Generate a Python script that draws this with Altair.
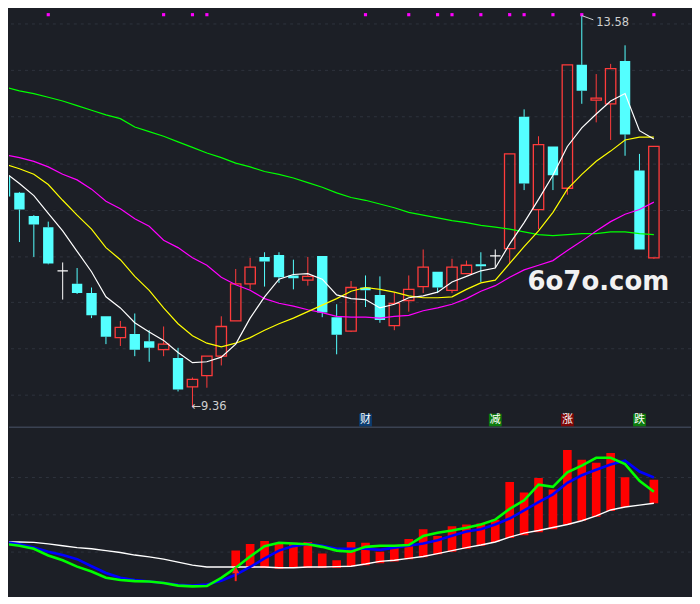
import altair as alt
import pandas as pd
import numpy as np

# ---------------- data ----------------
idx = list(range(-1, 45))
opens = [11.85, 11.67, 11.42, 11.30, 10.83, 10.69, 10.59, 10.34, 10.11, 10.15,
         10.07, 9.98, 9.89, 9.58, 9.70, 9.91, 10.29, 10.69, 10.98, 11.00,
         10.78, 10.73, 10.99, 10.33, 10.18, 10.65, 10.57, 10.24, 10.51, 10.66,
         10.82, 10.62, 10.80, 10.90, 10.99, 11.07, 12.49, 11.49, 12.17, 11.72,
         13.05, 12.67, 12.63, 13.09, 11.91, 10.97]
highs = [11.85, 11.68, 11.43, 11.36, 10.92, 10.86, 10.65, 10.34, 10.29, 10.37,
         10.19, 10.23, 10.00, 9.68, 9.91, 10.34, 10.85, 10.97, 11.03, 11.03,
         10.95, 10.98, 10.99, 10.47, 10.72, 10.78, 10.77, 10.60, 10.78, 11.06,
         10.82, 10.96, 10.94, 11.03, 11.06, 12.09, 12.57, 12.28, 12.17, 13.05,
         13.58, 12.95, 13.06, 13.26, 12.09, 12.17]
lows = [11.63, 11.14, 10.98, 10.90, 10.52, 10.58, 10.32, 10.04, 10.02, 9.91,
        9.85, 9.91, 9.53, 9.36, 9.57, 9.81, 10.29, 10.63, 10.66, 10.70,
        10.63, 10.67, 10.33, 9.93, 10.17, 10.44, 10.27, 10.19, 10.39, 10.59,
        10.59, 10.59, 10.80, 10.71, 10.86, 10.91, 11.70, 11.28, 11.70, 11.65,
        12.63, 12.43, 12.24, 12.07, 11.06, 10.96]
closes = [11.63, 11.49, 11.33, 10.91, 10.83, 10.59, 10.35, 10.12, 10.22, 9.98,
          10.00, 10.04, 9.55, 9.66, 9.91, 10.23, 10.69, 10.87, 10.93, 10.76,
          10.75, 10.77, 10.38, 10.14, 10.65, 10.62, 10.30, 10.48, 10.63, 10.87,
          10.65, 10.87, 10.89, 10.88, 10.99, 12.09, 11.77, 12.19, 11.86, 13.05,
          12.77, 12.69, 13.01, 12.30, 11.06, 12.17]

ma5 = [11.89, 11.77, 11.64, 11.45, 11.26, 11.04, 10.82, 10.55, 10.43, 10.27,
       10.17, 10.08, 9.95, 9.84, 9.85, 9.90, 10.04, 10.32, 10.55, 10.74,
       10.79, 10.80, 10.74, 10.57, 10.53, 10.52, 10.43, 10.47, 10.54, 10.56,
       10.60, 10.71, 10.77, 10.83, 10.86, 11.12, 11.35, 11.60, 11.86, 12.17,
       12.37, 12.52, 12.66, 12.74, 12.34, 12.25]
ma10 = [11.98, 11.93, 11.87, 11.76, 11.59, 11.43, 11.28, 11.08, 10.95, 10.77,
        10.62, 10.43, 10.26, 10.13, 10.05, 10.01, 10.05, 10.11, 10.19, 10.26,
        10.32, 10.39, 10.46, 10.53, 10.61, 10.65, 10.63, 10.60, 10.56, 10.54,
        10.54, 10.55, 10.63, 10.70, 10.73, 10.91, 11.09, 11.26, 11.46, 11.71,
        11.87, 12.01, 12.12, 12.24, 12.27, 12.27]
ma20 = [12.08, 12.05, 12.01, 11.95, 11.87, 11.81, 11.71, 11.58, 11.50, 11.39,
        11.31, 11.16, 11.08, 10.97, 10.89, 10.76, 10.68, 10.62, 10.53, 10.48,
        10.45, 10.41, 10.38, 10.34, 10.33, 10.33, 10.32, 10.34, 10.35, 10.40,
        10.43, 10.47, 10.53, 10.61, 10.67, 10.76, 10.84, 10.89, 10.94, 11.05,
        11.15, 11.26, 11.36, 11.44, 11.49, 11.57]
ma60 = [12.81, 12.77, 12.74, 12.70, 12.66, 12.61, 12.56, 12.51, 12.47, 12.38,
        12.33, 12.28, 12.22, 12.16, 12.10, 12.05, 11.99, 11.95, 11.90, 11.87,
        11.83, 11.78, 11.73, 11.67, 11.62, 11.59, 11.55, 11.51, 11.46, 11.43,
        11.40, 11.37, 11.35, 11.32, 11.30, 11.28, 11.25, 11.22, 11.21, 11.22,
        11.23, 11.23, 11.25, 11.25, 11.23, 11.22]

# lower indicator panel
ind_white = [1.27, 1.27, 1.26, 1.22, 1.17, 1.12, 1.09, 1.04, 0.99, 0.92,
             0.87, 0.81, 0.73, 0.65, 0.60, 0.60, 0.60, 0.60, 0.60, 0.58,
             0.58, 0.60, 0.60, 0.61, 0.62, 0.68, 0.75, 0.78, 0.83, 0.88,
             0.96, 1.04, 1.12, 1.19, 1.27, 1.40, 1.51, 1.58, 1.66, 1.74,
             1.84, 1.97, 2.13, 2.21, 2.26, 2.31]
ind_blue = [1.27, 1.21, 1.12, 1.01, 0.92, 0.81, 0.62, 0.44, 0.31, 0.25,
            0.21, 0.17, 0.12, 0.10, 0.13, 0.23, 0.39, 0.60, 0.83, 1.04,
            1.16, 1.22, 1.17, 1.09, 1.09, 1.09, 1.06, 1.12, 1.17, 1.23,
            1.32, 1.44, 1.55, 1.61, 1.74, 1.90, 2.12, 2.34, 2.55, 2.86,
            3.06, 3.21, 3.35, 3.45, 3.16, 3.00]
ind_green = [1.22, 1.17, 1.09, 0.91, 0.78, 0.61, 0.48, 0.31, 0.25, 0.22,
             0.21, 0.17, 0.10, 0.08, 0.09, 0.31, 0.58, 0.88, 1.16, 1.25,
             1.23, 1.21, 1.14, 1.04, 1.01, 1.14, 1.17, 1.17, 1.19, 1.43,
             1.52, 1.58, 1.65, 1.74, 1.87, 2.16, 2.39, 2.81, 2.75, 3.14,
             3.32, 3.53, 3.53, 3.36, 2.91, 2.62]
bar_idx = [15, 16, 17, 18, 19, 20, 21, 22, 23, 24, 25, 26, 27, 28, 29,
           30, 31, 32, 33, 34, 35, 36, 37, 38, 39, 40, 41, 42, 44]
bar_top = [1.04, 1.22, 1.30, 1.22, 1.25, 1.27, 0.96, 0.78, 1.27, 1.25, 1.01, 1.19, 1.35, 1.61, 1.43,
           1.69, 1.74, 1.77, 1.87, 2.88, 2.60, 2.99, 2.68, 3.74, 3.48, 3.40, 3.66, 3.01, 2.94]
bar_bottom = [0.57, 0.57, 0.57, 0.55, 0.57, 0.57, 0.57, 0.57, 0.62, 0.65, 0.70, 0.75, 0.81, 0.86, 0.94,
              1.01, 1.09, 1.17, 1.27, 1.38, 1.45, 1.53, 1.61, 1.74, 1.84, 1.95, 2.10, 2.21, 2.31]
buy_arrow_idx = [15]

signal_dots = [2, 10, 12, 13, 24, 27, 29, 30, 32, 34, 35, 37, 39, 44]
marker_idx = [24, 33, 38, 43]
marker_text = ["财", "减", "涨", "跌"]
marker_bg = ["#0b3c70", "#0c7a0c", "#7d0606", "#0c7a0c"]

price_grid = [13.49, 12.99, 12.49, 11.98, 11.48, 10.98, 10.49, 9.99, 9.49]
ind_grid = [1, 2, 3]

# ---------------- styling ----------------
BG = "#1c1f26"
GRID = "#2e333d"
RED = "#ff3b3b"
CYAN = "#54ffff"
W, H_TOP, H_BOT = 684, 420, 168

XS = alt.Scale(domain=[-0.723, 46.574], nice=False, zero=False)
YS = alt.Scale(domain=[9.14, 13.653], nice=False, zero=False)
YB = alt.Scale(domain=[-0.182, 4.312], nice=False, zero=False)

df = pd.DataFrame(dict(i=idx, o=opens, h=highs, l=lows, c=closes))
df["top"] = df[["o", "c"]].max(axis=1)
df["bot"] = df[["o", "c"]].min(axis=1)
df["kind"] = np.where(df.c > df.o, "up", np.where(df.c < df.o, "down", "flat"))
df["col"] = df["kind"].map({"up": RED, "down": CYAN, "flat": "#ffffff"})
df["xl"] = df["i"] - 0.36
df["xr"] = df["i"] + 0.36

ma = pd.DataFrame(dict(i=idx, ma5=ma5, ma10=ma10, ma20=ma20, ma60=ma60))
ind = pd.DataFrame(dict(i=idx, w=ind_white, b=ind_blue, g=ind_green))
bars = pd.DataFrame(dict(i=bar_idx, t=bar_top, b=bar_bottom))
bars["xl"] = bars["i"] - 0.30
bars["xr"] = bars["i"] + 0.30

X = lambda f: alt.X(f"{f}:Q", scale=XS, axis=None)
Y = lambda f: alt.Y(f"{f}:Q", scale=YS, axis=None)
YBt = lambda f: alt.Y(f"{f}:Q", scale=YB, axis=None)

base = alt.Chart(df)

grid_top = alt.Chart(pd.DataFrame({"g": price_grid})).mark_rule(
    color=GRID, strokeDash=[3, 4], strokeWidth=1).encode(y=Y("g"))

wick_up = base.mark_rule(strokeWidth=1, clip=True).encode(
    x=X("i"), y=Y("h"), y2="top:Q", color=alt.Color("col:N", scale=None))
wick_dn = base.mark_rule(strokeWidth=1, clip=True).encode(
    x=X("i"), y=Y("bot"), y2="l:Q", color=alt.Color("col:N", scale=None))
body_dn = base.transform_filter(alt.datum.kind == "down").mark_rect(clip=True, color=CYAN).encode(
    x=X("xl"), x2="xr:Q", y=Y("o"), y2="c:Q")
body_up = base.transform_filter(alt.datum.kind == "up").mark_rect(
    clip=True, fillOpacity=0, stroke=RED, strokeWidth=1.3).encode(
    x=X("xl"), x2="xr:Q", y=Y("o"), y2="c:Q")
body_flat = base.transform_filter(alt.datum.kind == "flat").mark_rule(
    clip=True, color="#ffffff", strokeWidth=1.3).encode(
    x=X("xl"), x2="xr:Q", y=Y("o"))

lines = []
for name, colr, wdt in [("ma60", "#00ff00", 1.2), ("ma20", "#ff00ff", 1.2),
                        ("ma10", "#ffff00", 1.2), ("ma5", "#ffffff", 1.2)]:
    lines.append(alt.Chart(ma).mark_line(color=colr, strokeWidth=wdt, clip=True).encode(
        x=X("i"), y=Y(name)))

dots = alt.Chart(pd.DataFrame({"i": signal_dots})).mark_square(
    size=10, color="#ff00ff", opacity=1).encode(x=X("i"), y=alt.value(6 * 0.974))

hi_row = df.loc[df["h"].idxmax()]
lo_row = df.loc[df["l"].idxmin()]
hi_df = pd.DataFrame({"i": [hi_row.i], "i2": [hi_row.i + 0.8], "v": [hi_row.h],
                      "v2": [hi_row.h - 0.045], "tx": [hi_row.i + 1.0], "ty": [hi_row.h - 0.08],
                      "lab": [f"{hi_row.h:.2f}"]})
hi_line = alt.Chart(hi_df).mark_rule(color="#d0d0d0", strokeWidth=1).encode(
    x=X("i"), x2="i2:Q", y=Y("v"), y2="v2:Q")
hi_text = alt.Chart(hi_df).mark_text(align="left", baseline="middle", font="DejaVu Sans",
                                     fontSize=11.5, color="#d0d0d0").encode(
    x=X("tx"), y=Y("ty"), text="lab:N")
lo_df = pd.DataFrame({"i": [lo_row.i], "v": [lo_row.l], "lab": [f"←{lo_row.l:.2f}"]})
lo_text = alt.Chart(lo_df).mark_text(align="left", baseline="middle", font="DejaVu Sans",
                                     fontSize=11.5, color="#d0d0d0", dx=-1).encode(
    x=X("i"), y=Y("v"), text="lab:N")

mk = pd.DataFrame({"i": marker_idx, "t": marker_text, "bg": marker_bg})
mk_box = alt.Chart(mk).mark_square(size=165, opacity=1).encode(
    x=X("i"), y=alt.value(423.5 * 0.974), color=alt.Color("bg:N", scale=None))
mk_txt = alt.Chart(mk).mark_text(font="Noto Sans CJK SC", fontSize=11, color="#ffffff",
                                 baseline="middle").encode(
    x=X("i"), y=alt.value(423.5 * 0.974), text="t:N")

watermark = alt.Chart(pd.DataFrame({"t": ["6o7o.com"]})).mark_text(
    font="DejaVu Sans", fontWeight="bold", fontSize=26, color="#f2f2f2",
    align="center", baseline="middle").encode(
    x=alt.value(605 * 0.977), y=alt.value(281 * 0.974), text="t:N")

sep = alt.Chart(pd.DataFrame({"s": [9.145]})).mark_rule(color="#3a4252", strokeWidth=1.5).encode(
    y=Y("s"))

top = alt.layer(grid_top, wick_up, wick_dn, body_dn, body_up, body_flat, *lines,
                dots, hi_line, hi_text, lo_text, mk_box, mk_txt, watermark, sep).properties(
    width=W, height=H_TOP)

# ---------------- lower panel ----------------
grid_bot = alt.Chart(pd.DataFrame({"g": ind_grid})).mark_rule(
    color=GRID, strokeDash=[3, 4], strokeWidth=1).encode(y=YBt("g"))
bar_l = alt.Chart(bars).mark_rect(color="#ff0000", clip=True).encode(
    x=X("xl"), x2="xr:Q", y=YBt("t"), y2="b:Q")
wline = alt.Chart(ind).mark_line(color="#ffffff", strokeWidth=1.4, clip=True).encode(x=X("i"), y=YBt("w"))
bline = alt.Chart(ind).mark_line(color="#0000ff", strokeWidth=2.6, clip=True).encode(x=X("i"), y=YBt("b"))
gline = alt.Chart(ind).mark_line(color="#00ff00", strokeWidth=2.6, clip=True).encode(x=X("i"), y=YBt("g"))

arr = pd.DataFrame({"i": buy_arrow_idx})
arr["v"] = [ind_white[i + 1] - 0.08 for i in buy_arrow_idx]
arr["v2"] = arr["v"] - 0.3
arr_shaft = alt.Chart(arr).mark_rule(color="#ff2020", strokeWidth=2).encode(
    x=X("i"), y=YBt("v"), y2="v2:Q")
arr_head = alt.Chart(arr).mark_point(shape="triangle-up", filled=True, size=55,
                                     color="#ff2020", opacity=1).encode(x=X("i"), y=YBt("v"))

bottom = alt.layer(grid_bot, bar_l, wline, bline, gline, arr_shaft, arr_head).properties(
    width=W, height=H_BOT)

chart = alt.vconcat(top, bottom, spacing=0).properties(
    padding=0, background=BG).configure_view(stroke=None, strokeWidth=0)

chart.save("out.html", embed_options={"renderer": "svg", "actions": False})
